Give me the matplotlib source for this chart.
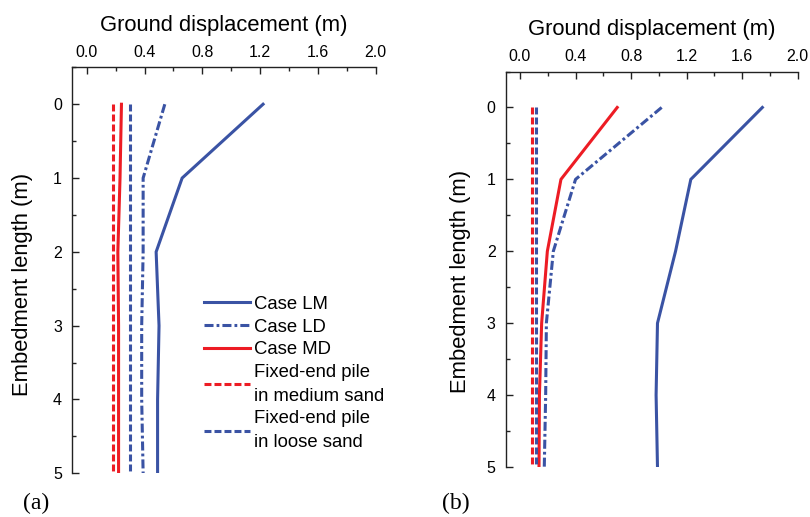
import matplotlib
matplotlib.use("Agg")
import matplotlib.pyplot as plt
from matplotlib.ticker import MultipleLocator, FormatStrFormatter

plt.rcParams['font.family'] = ['Liberation Sans', 'DejaVu Sans']
plt.rcParams['lines.scale_dashes'] = False

# Embedment depth (m)
depth = [0, 1, 2, 3, 4, 5]

# (a) ground displacement profiles (m)
a_case_lm = [1.22, 0.66, 0.48, 0.50, 0.49, 0.49]
a_case_ld = [0.54, 0.39, 0.39, 0.38, 0.38, 0.39]
a_case_md = [0.24, 0.23, 0.215, 0.22, 0.22, 0.22]
a_fixed_medium = [0.18, 0.18, 0.18, 0.18, 0.18, 0.18]
a_fixed_loose = [0.30, 0.30, 0.30, 0.30, 0.30, 0.30]

# (b) ground displacement profiles (m)
b_case_lm = [1.745, 1.23, 1.12, 0.99, 0.98, 0.99]
b_case_ld = [1.02, 0.40, 0.24, 0.19, 0.185, 0.175]
b_case_md = [0.70, 0.295, 0.197, 0.156, 0.14, 0.137]
b_fixed_medium = [0.088, 0.088, 0.088, 0.088, 0.088, 0.088]
b_fixed_loose = [0.113, 0.113, 0.113, 0.113, 0.113, 0.113]

labels = ["Case LM", "Case LD", "Case MD",
          "Fixed-end pile\nin medium sand", "Fixed-end pile\nin loose sand"]

BLUE = "#3a53a4"
RED = "#ed1c24"
LW = 2.2
DASH = (0, (5.0, 2.2))
DASHDOT = (0, (6.5, 2.2, 2.0, 2.2))

fig = plt.figure(figsize=(8.1, 5.17), dpi=100)
ax_a = fig.add_axes([0.0893, 0.0845, 0.3746, 0.7853])
ax_b = fig.add_axes([0.6248, 0.0967, 0.3601, 0.7650])


def draw(ax, lm, ld, md, fm, fl):
    h = []
    h += ax.plot(lm, depth, color=BLUE, lw=LW, solid_joinstyle='miter')
    h += ax.plot(ld, depth, color=BLUE, lw=LW, linestyle=DASHDOT)
    h += ax.plot(md, depth, color=RED, lw=LW)
    h += ax.plot(fm, depth, color=RED, lw=LW, linestyle=DASH)
    h += ax.plot(fl, depth, color=BLUE, lw=LW, linestyle=DASH)

    ax.set_xlim(-0.1, 2.0)
    ax.set_ylim(5, -0.5)
    for s in ('right', 'bottom'):
        ax.spines[s].set_visible(False)
    for s in ('top', 'left'):
        ax.spines[s].set_linewidth(1.0)
        ax.spines[s].set_color('#222222')

    ax.xaxis.set_ticks_position('top')
    ax.xaxis.set_label_position('top')
    ax.xaxis.set_major_locator(MultipleLocator(0.4))
    ax.xaxis.set_minor_locator(MultipleLocator(0.2))
    ax.xaxis.set_major_formatter(FormatStrFormatter('%.1f'))
    ax.yaxis.set_major_locator(MultipleLocator(1))
    ax.yaxis.set_minor_locator(MultipleLocator(0.5))
    ax.set_yticks([0, 1, 2, 3, 4, 5])

    ax.tick_params(which='both', direction='in', color='#222222', width=1.0)
    ax.tick_params(which='major', length=5, labelsize=11.5)
    ax.tick_params(axis='x', which='major', pad=5.5)
    ax.tick_params(axis='y', which='major', pad=7.5)
    ax.tick_params(which='minor', length=3)

    ax.set_xlabel("Ground displacement (m)", fontsize=15.8, labelpad=10)
    ax.set_ylabel("Embedment length (m)", fontsize=15.8)
    return h


handles = draw(ax_a, a_case_lm, a_case_ld, a_case_md, a_fixed_medium, a_fixed_loose)
draw(ax_b, b_case_lm, b_case_ld, b_case_md, b_fixed_medium, b_fixed_loose)

ax_a.yaxis.set_label_coords(-0.131, 0.466)
ax_b.yaxis.set_label_coords(-0.122, 0.47)

leg = ax_a.legend(handles, labels, loc='upper left', bbox_to_anchor=(0.434, 0.437),
                  frameon=False, fontsize=13.3, handlelength=2.5, handletextpad=0.2,
                  labelspacing=0.31, borderpad=0, borderaxespad=0)
for t in leg.get_texts():
    t.set_linespacing(1.5)

fig.text(23 / 810, 1 - 503 / 517, "(a)", family=['Liberation Serif', 'DejaVu Serif'],
         fontsize=17, va='center', ha='left')
fig.text(442 / 810, 1 - 503 / 517, "(b)", family=['Liberation Serif', 'DejaVu Serif'],
         fontsize=17, va='center', ha='left')

fig.savefig("out.png", dpi=100)
